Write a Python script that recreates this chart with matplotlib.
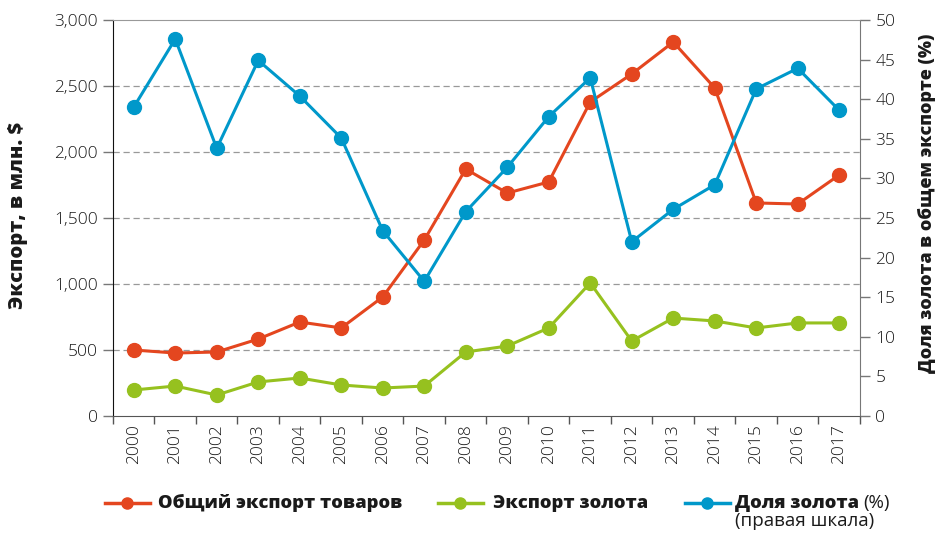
import matplotlib
matplotlib.use("Agg")
import matplotlib.pyplot as plt
from matplotlib.lines import Line2D
from matplotlib.ticker import FuncFormatter, MultipleLocator, FixedLocator

years = [str(y) for y in range(2000, 2018)]
total_exports = [500, 477, 485, 583, 712, 667, 902, 1333, 1871, 1689, 1773, 2379,
                 2591, 2833, 2485, 1614, 1606, 1826]
gold_exports = [197, 227, 159, 258, 288, 235, 212, 227, 485, 530, 667, 1008,
                568, 742, 720, 667, 705, 705]
gold_share = [39.0, 47.6, 33.8, 44.9, 40.4, 35.1, 23.4, 17.0, 25.8, 31.4, 37.8, 42.7,
              22.0, 26.1, 29.2, 41.3, 43.9, 38.6]

RED = "#E4461F"
GREEN = "#96C11F"
BLUE = "#0098CA"
TXT = "#1a1a1a"

plt.rcParams['font.family'] = ['Open Sans', 'DejaVu Sans']

fig = plt.figure(figsize=(9.37, 5.33), dpi=100)
ax = fig.add_axes([113/937, 1-416/533, (860-113)/937, (416-20)/533])
ax2 = ax.twinx()

x = list(range(len(years)))
ax.plot(x, total_exports, color=RED, lw=2.2, marker='o', ms=10, zorder=3)
ax.plot(x, gold_exports, color=GREEN, lw=2.2, marker='o', ms=10, zorder=3)
ax2.plot(x, gold_share, color=BLUE, lw=2.2, marker='o', ms=10, zorder=3)

ax.set_xlim(-0.5, len(years) - 0.5)
ax.set_ylim(0, 3000)
ax2.set_ylim(0, 50)

ax.yaxis.set_major_locator(MultipleLocator(500))
ax.yaxis.set_major_formatter(FuncFormatter(lambda v, p: f"{int(v):,}"))
ax2.yaxis.set_major_locator(MultipleLocator(5))

for v in range(500, 3000, 500):
    ax.axhline(v, color="#999999", lw=0.9, ls=(0, (5, 3)), zorder=1)

ax.set_xticks(x)
ax.set_xticklabels(years, rotation=90)
ax.xaxis.set_minor_locator(FixedLocator([i + 0.5 for i in range(-1, len(years))]))
ax.tick_params(axis='x', which='major', length=0, pad=6, labelsize=12.5, labelcolor=TXT)
ax.tick_params(axis='x', which='minor', length=6, width=1, color="#555555", direction='out')
ax.tick_params(axis='y', length=7, width=1, color="#777777", labelsize=12.5, labelcolor=TXT, pad=4)
ax2.tick_params(axis='y', length=7, width=1, color="#777777", labelsize=12.5, labelcolor=TXT, pad=4)
for lab in ax.get_xticklabels() + ax.get_yticklabels() + ax2.get_yticklabels():
    lab.set_fontweight('light')

for s in ['top', 'right', 'bottom', 'left']:
    ax2.spines[s].set_visible(False)
ax.spines['top'].set_color("#999999")
ax.spines['right'].set_color("#777777")
ax.spines['left'].set_color("#111111")
ax.spines['bottom'].set_color("#555555")

ax.set_ylabel("Экспорт, в млн. $", fontsize=14.5, fontweight='heavy', color=TXT,
              va='center', ha='center')
ax.yaxis.set_label_coords((18 - 113) / 747, (416 - 215) / 396)
ax2.set_ylabel("Доля золота в общем экспорте (%)", fontsize=13, fontweight='heavy',
               color=TXT, va='center', ha='center')
ax2.yaxis.set_label_coords((927 - 113) / 747, (416 - 203) / 396)

# legend (manual)
LY = 1 - 503/533
def leg_item(xl, color):
    fig.add_artist(Line2D([(xl - 22)/937, (xl + 23)/937], [LY, LY], color=color, lw=2.5,
                          transform=fig.transFigure))
    fig.add_artist(Line2D([xl/937], [LY], color=color, marker='o', ms=8,
                          transform=fig.transFigure))

leg_item(127, RED)
fig.text(158/937, LY, "Общий экспорт товаров", fontsize=13.2, fontweight='heavy',
         color=TXT, va='center', ha='left')
leg_item(460, GREEN)
fig.text(493/937, LY, "Экспорт золота", fontsize=13.2, fontweight='heavy',
         color=TXT, va='center', ha='left')
leg_item(707, BLUE)
t = fig.text(735/937, LY, "Доля золота", fontsize=13.2, fontweight='heavy',
             color=TXT, va='center', ha='left')
fig.canvas.draw()
bb = t.get_window_extent()
fig.text(bb.x1/937 + 4/937, LY, "(%)", fontsize=13.5, color=TXT, va='center', ha='left')
fig.text(735/937, 1 - 521/533, "(правая шкала)", fontsize=13.5, color=TXT, va='center', ha='left')

fig.savefig("out.png", dpi=100)
